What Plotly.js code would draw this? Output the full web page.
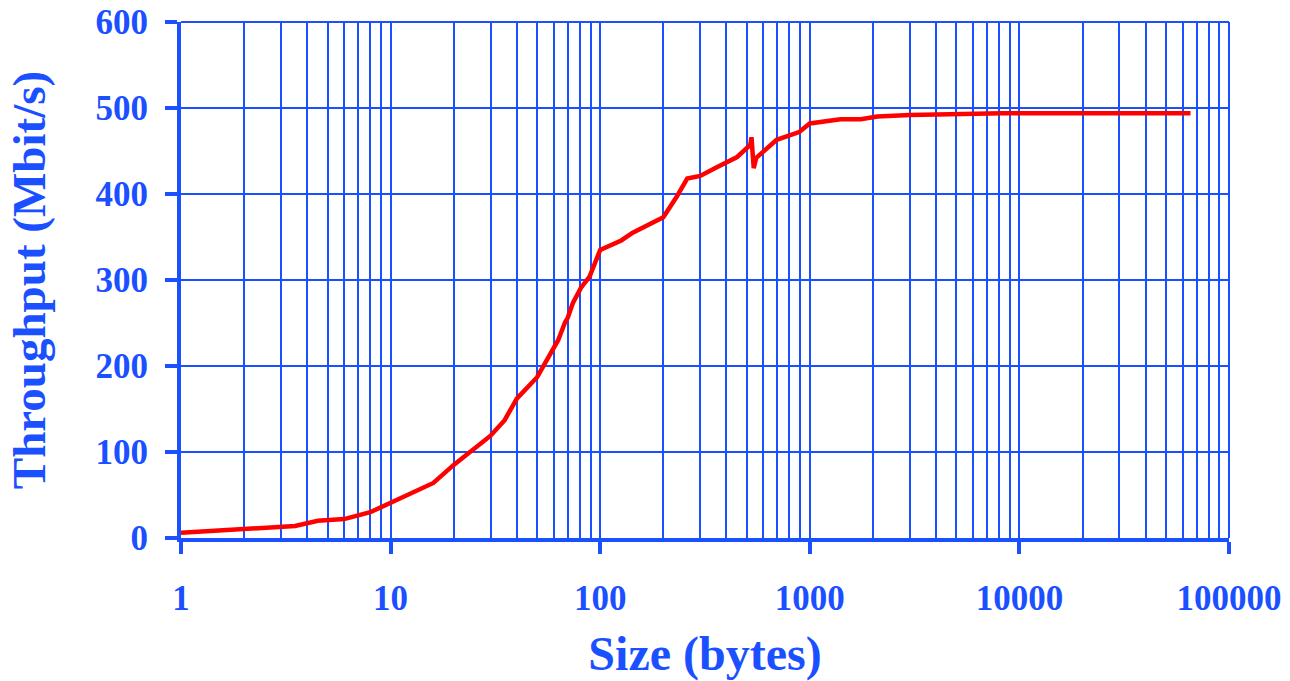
<!DOCTYPE html>
<html>
<head>
<meta charset="utf-8">
<script src="https://cdn.plot.ly/plotly-3.0.1.min.js"></script>
<style>html,body{margin:0;padding:0;background:#fff;}#chart{width:1290px;height:681px;}</style>
</head>
<body>
<div id="chart"></div>
<script>
const sizes = [1, 2, 3, 3.5, 4.5, 5.5, 6, 8, 10, 16, 20, 30, 35, 40, 50, 58, 63, 68, 70, 74, 81, 89, 100, 126, 143, 200, 232, 260, 300, 360, 450, 520, 527, 540, 555, 695, 890, 1000, 1400, 1750, 2100, 3000, 8300, 65536];
const throughput = [6, 11, 13, 14, 20, 21, 22, 30, 41, 64, 85, 119, 137, 162, 187, 215, 230, 251, 256, 273, 291, 304, 335, 346, 355, 373, 397, 418, 421, 431, 443, 457, 466, 430, 442, 463, 472, 482, 487, 487, 490, 492, 494, 494];
const yTicks = [0, 100, 200, 300, 400, 500, 600];
const xTicks = [1, 10, 100, 1000, 10000, 100000];
const xTickText = ['1', '10', '100', '1000', '10000', '100000'];

const blue = '#1a50ff';
const font = {family: 'Liberation Serif, Times New Roman, serif', color: blue};

Plotly.newPlot('chart', [{
  x: sizes, y: throughput, type: 'scatter', mode: 'lines',
  line: {color: '#ff0000', width: 4.5}, hoverinfo: 'skip'
}], {
  width: 1290, height: 681,
  margin: {l: 181, r: 61, t: 22, b: 143},
  paper_bgcolor: '#fff', plot_bgcolor: '#fff',
  showlegend: false,
  font: font,
  xaxis: {
    type: 'log', range: [0, 5],
    tickvals: xTicks, ticktext: xTickText,
    tickfont: {family: font.family, color: blue, size: 35, weight: 'bold'},
    ticks: 'outside', ticklen: 12, tickwidth: 4, tickcolor: blue,
    ticklabelstandoff: 14,
    showline: true, linecolor: blue, linewidth: 4,
    showgrid: true, gridcolor: blue, gridwidth: 2,
    minor: {showgrid: true, gridcolor: blue, gridwidth: 2, dtick: 'D1', ticks: ''},
    zeroline: false,
    title: {text: 'Size (bytes)', font: {family: font.family, color: blue, size: 48, weight: 'bold'}, standoff: 20}
  },
  yaxis: {
    range: [0, 600], tickvals: yTicks,
    tickfont: {family: font.family, color: blue, size: 35, weight: 'bold'},
    ticks: 'outside', ticklen: 12, tickwidth: 4, tickcolor: blue,
    ticklabelstandoff: 10,
    showline: true, linecolor: blue, linewidth: 4,
    showgrid: true, gridcolor: blue, gridwidth: 2,
    zeroline: false,
    title: {text: 'Throughput (Mbit/s)', font: {family: font.family, color: blue, size: 47, weight: 'bold'}, standoff: 36}
  },
  shapes: [
    {type: 'line', xref: 'paper', yref: 'paper', x0: 0, x1: 1, y0: 1, y1: 1, line: {color: blue, width: 2}},
    {type: 'line', xref: 'paper', yref: 'paper', x0: 1, x1: 1, y0: 0, y1: 1, line: {color: blue, width: 2}}
  ]
}, {displayModeBar: false, staticPlot: true});
</script>
</body>
</html>
